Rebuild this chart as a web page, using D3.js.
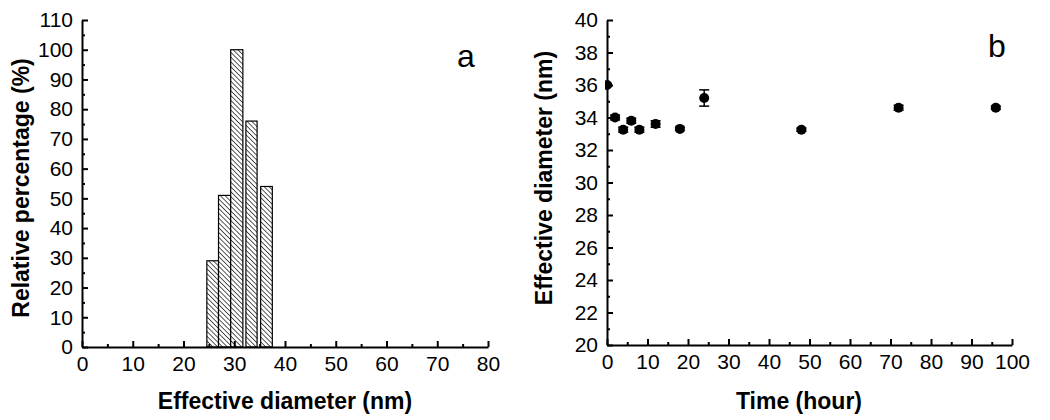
<!DOCTYPE html>
<html>
<head>
<meta charset="utf-8">
<script src="https://cdn.jsdelivr.net/npm/d3@7"></script>
<style>
  body { margin: 0; background: #fff; }
  svg text { font-family: "Liberation Sans", Arial, sans-serif; fill: #000; }
</style>
</head>
<body>
<div id="chart"></div>
<script>
// ---- data: panel a (size distribution) ----
var binLo = [24.6, 26.9, 29.3, 32.3, 35.2];
var binHi = [26.9, 29.3, 31.7, 34.5, 37.5];
var relPct = [29, 51, 100, 76, 54];

// ---- data: panel b (diameter vs time) ----
var hours = [0, 2, 4, 6, 8, 12, 18, 24, 48, 72, 96];
var diam = [36.0, 34.0, 33.25, 33.8, 33.25, 33.6, 33.3, 35.2, 33.25, 34.6, 34.6];
var diamErr = [0.1, 0.15, 0.15, 0.15, 0.15, 0.2, 0.1, 0.5, 0.1, 0.15, 0.1];

var xTicksA = d3.range(0, 81, 10);
var yTicksA = d3.range(0, 111, 10);
var xTicksB = d3.range(0, 101, 10);
var yTicksB = d3.range(20, 41, 2);

var svg = d3.select("#chart").append("svg")
  .attr("width", 1050)
  .attr("height", 420);

// hatch pattern for bars ("\" lines)
var pat = svg.append("defs").append("pattern")
  .attr("id", "hatch")
  .attr("patternUnits", "userSpaceOnUse")
  .attr("width", 3.4)
  .attr("height", 3.4)
  .attr("patternTransform", "rotate(-45)");
pat.append("rect").attr("width", 3.4).attr("height", 3.4).attr("fill", "#fff");
pat.append("line")
  .attr("x1", 0).attr("y1", 0).attr("x2", 0).attr("y2", 3.4)
  .attr("stroke", "#000").attr("stroke-width", 1.3);

function styleAxis(g) {
  g.selectAll("path.domain").attr("stroke", "#000").attr("stroke-width", 2);
  g.selectAll(".tick line").attr("stroke", "#000").attr("stroke-width", 2);
  g.selectAll(".tick text").attr("font-size", 21).attr("fill", "#000")
    .style("font-family", "Liberation Sans, Arial, sans-serif");
}

// ================= PANEL A =================
var xA = d3.scaleLinear().domain([0, 80]).range([82, 488]);
var yA = d3.scaleLinear().domain([0, 110]).range([347, 20]);

svg.append("g").selectAll("rect")
  .data(relPct)
  .enter()
  .append("rect")
  .attr("x", (d, i) => xA(binLo[i]))
  .attr("width", (d, i) => xA(binHi[i]) - xA(binLo[i]))
  .attr("y", d => yA(d))
  .attr("height", d => yA(0) - yA(d))
  .attr("fill", "url(#hatch)")
  .attr("stroke", "#000")
  .attr("stroke-width", 1.2);

// minor ticks
svg.append("g")
  .attr("transform", `translate(0, ${yA(0)})`)
  .call(d3.axisBottom(xA).tickValues(d3.range(5, 80, 10)).tickSize(-3).tickFormat(""))
  .call(styleAxis)
  .select("path.domain").remove();
svg.append("g")
  .attr("transform", `translate(${xA(0)}, 0)`)
  .call(d3.axisLeft(yA).tickValues(d3.range(5, 110, 10)).tickSize(-3).tickFormat(""))
  .call(styleAxis)
  .select("path.domain").remove();

// major axes
svg.append("g")
  .attr("transform", `translate(0, ${yA(0)})`)
  .call(d3.axisBottom(xA).tickValues(xTicksA).tickSizeInner(-6).tickSizeOuter(0).tickPadding(9))
  .call(styleAxis);
svg.append("g")
  .attr("transform", `translate(${xA(0)}, 0)`)
  .call(d3.axisLeft(yA).tickValues(yTicksA).tickSizeInner(-6).tickSizeOuter(0).tickPadding(9))
  .call(styleAxis);

svg.append("text")
  .attr("x", 285)
  .attr("y", 409)
  .attr("text-anchor", "middle")
  .attr("font-size", 23)
  .attr("font-weight", "bold")
  .text("Effective diameter (nm)");

svg.append("text")
  .attr("transform", "translate(29, 188) rotate(-90)")
  .attr("text-anchor", "middle")
  .attr("font-size", 23)
  .attr("font-weight", "bold")
  .text("Relative percentage (%)");

svg.append("text")
  .attr("x", 466)
  .attr("y", 67)
  .attr("text-anchor", "middle")
  .attr("font-size", 32)
  .text("a");

// ================= PANEL B =================
var xB = d3.scaleLinear().domain([0, 100]).range([607, 1012]);
var yB = d3.scaleLinear().domain([20, 40]).range([345, 20]);

svg.append("g")
  .attr("transform", `translate(0, ${yB(20)})`)
  .call(d3.axisBottom(xB).tickValues(d3.range(5, 100, 10)).tickSize(-3).tickFormat(""))
  .call(styleAxis)
  .select("path.domain").remove();
svg.append("g")
  .attr("transform", `translate(${xB(0)}, 0)`)
  .call(d3.axisLeft(yB).tickValues(d3.range(21, 40, 2)).tickSize(-3).tickFormat(""))
  .call(styleAxis)
  .select("path.domain").remove();

svg.append("g")
  .attr("transform", `translate(0, ${yB(20)})`)
  .call(d3.axisBottom(xB).tickValues(xTicksB).tickSizeInner(-6).tickSizeOuter(0).tickPadding(9))
  .call(styleAxis);
svg.append("g")
  .attr("transform", `translate(${xB(0)}, 0)`)
  .call(d3.axisLeft(yB).tickValues(yTicksB).tickSizeInner(-6).tickSizeOuter(0).tickPadding(9))
  .call(styleAxis);

svg.append("clipPath").attr("id", "clipB")
  .append("rect")
  .attr("x", xB(0) - 2).attr("y", 0)
  .attr("width", xB(100) - xB(0) + 20).attr("height", yB(20));

var pts = svg.append("g").attr("clip-path", "url(#clipB)");

var errG = pts.selectAll("g.err")
  .data(hours)
  .enter()
  .append("g")
  .attr("class", "err");
errG.append("line")
  .attr("x1", d => xB(d)).attr("x2", d => xB(d))
  .attr("y1", (d, i) => yB(diam[i] + diamErr[i]))
  .attr("y2", (d, i) => yB(diam[i] - diamErr[i]))
  .attr("stroke", "#000").attr("stroke-width", 1.5);
[1, -1].forEach(function(sgn) {
  errG.append("line")
    .attr("x1", d => xB(d) - 5).attr("x2", d => xB(d) + 5)
    .attr("y1", (d, i) => yB(diam[i] + sgn * diamErr[i]))
    .attr("y2", (d, i) => yB(diam[i] + sgn * diamErr[i]))
    .attr("stroke", "#000").attr("stroke-width", 1.5);
});

pts.selectAll("circle")
  .data(hours)
  .enter()
  .append("circle")
  .attr("cx", d => xB(d))
  .attr("cy", (d, i) => yB(diam[i]))
  .attr("r", 5)
  .attr("fill", "#000");

svg.append("text")
  .attr("x", 799)
  .attr("y", 409)
  .attr("text-anchor", "middle")
  .attr("font-size", 23)
  .attr("font-weight", "bold")
  .text("Time (hour)");

svg.append("text")
  .attr("transform", "translate(552, 178) rotate(-90)")
  .attr("text-anchor", "middle")
  .attr("font-size", 23)
  .attr("font-weight", "bold")
  .text("Effective diameter (nm)");

svg.append("text")
  .attr("x", 997)
  .attr("y", 57)
  .attr("text-anchor", "middle")
  .attr("font-size", 32)
  .text("b");
</script>
</body>
</html>
